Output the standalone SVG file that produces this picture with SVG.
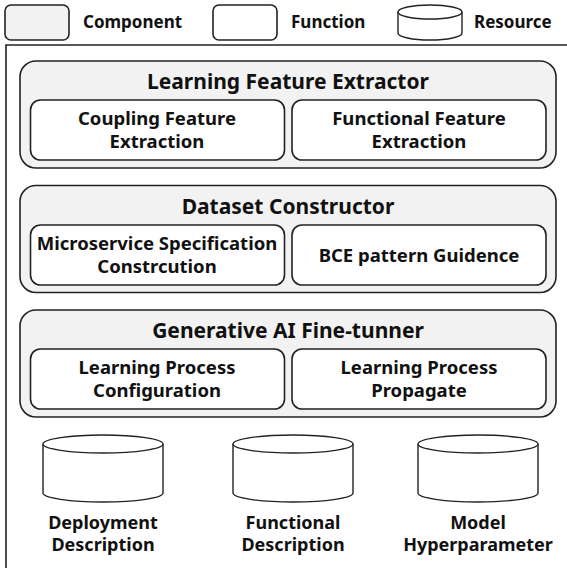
<svg xmlns="http://www.w3.org/2000/svg" width="567" height="568" viewBox="0 0 567 568">
  <style>
    text { font-family: "Noto Sans", "Open Sans", "DejaVu Sans", sans-serif; font-weight: bold; fill: #111; text-anchor: middle; }
    .legend { font-size: 17px; text-anchor: start; }
    .title { font-size: 21px; }
    .fn-text { font-size: 18.5px; }
    .res-text { font-size: 18px; }
    .comp { fill: #f2f2f2; stroke: #222; stroke-width: 1.6; }
    .fn { fill: #fff; stroke: #222; stroke-width: 1.6; }
    .res { fill: #fff; stroke: #222; stroke-width: 1.4; }
    .frame { fill: none; stroke: #222; stroke-width: 1.6; }
  </style>

  <!-- legend -->
  <g id="legend">
    <rect class="comp" x="5" y="5" width="64" height="35" rx="6"/>
    <text class="legend" x="83" y="28">Component</text>
    <rect class="fn" x="213" y="5" width="64" height="35" rx="6"/>
    <text class="legend" x="291" y="28">Function</text>
    <path class="res" d="M398,12 A32,7 0 0 1 462,12 V33 A32,7 0 0 1 398,33 Z"/>
    <path class="res" fill="none" d="M398,12 A32,7 0 0 0 462,12"/>
    <text class="legend" x="474" y="28">Resource</text>
  </g>

  <!-- outer frame -->
  <path class="frame" d="M6,570 V45 H570"/>

  <!-- Learning Feature Extractor -->
  <g id="learning-feature-extractor">
    <rect class="comp" x="20" y="61" width="536" height="107" rx="16"/>
    <text class="title" x="288" y="89">Learning Feature Extractor</text>
    <g id="coupling-feature-extraction">
      <rect class="fn" x="30.5" y="100" width="254" height="60" rx="10"/>
      <text class="fn-text" x="157" y="125">Coupling Feature</text>
      <text class="fn-text" x="157" y="148">Extraction</text>
    </g>
    <g id="functional-feature-extraction">
      <rect class="fn" x="292" y="100" width="254" height="60" rx="10"/>
      <text class="fn-text" x="419" y="125">Functional Feature</text>
      <text class="fn-text" x="419" y="148">Extraction</text>
    </g>
  </g>

  <!-- Dataset Constructor -->
  <g id="dataset-constructor">
    <rect class="comp" x="20" y="185.5" width="536" height="107" rx="16"/>
    <text class="title" x="288" y="214">Dataset Constructor</text>
    <g id="microservice-specification">
      <rect class="fn" x="30.5" y="225" width="254" height="60" rx="10"/>
      <text class="fn-text" x="157" y="250">Microservice Specification</text>
      <text class="fn-text" x="157" y="273">Constrcution</text>
    </g>
    <g id="bce-pattern-guidence">
      <rect class="fn" x="292" y="225" width="254" height="60" rx="10"/>
      <text class="fn-text" x="419" y="262">BCE pattern Guidence</text>
    </g>
  </g>

  <!-- Generative AI Fine-tunner -->
  <g id="generative-ai-fine-tunner">
    <rect class="comp" x="20" y="310" width="536" height="107" rx="16"/>
    <text class="title" x="288" y="338">Generative AI Fine-tunner</text>
    <g id="learning-process-configuration">
      <rect class="fn" x="30.5" y="349" width="254" height="60" rx="10"/>
      <text class="fn-text" x="157" y="374">Learning Process</text>
      <text class="fn-text" x="157" y="397">Configuration</text>
    </g>
    <g id="learning-process-propagate">
      <rect class="fn" x="292" y="349" width="254" height="60" rx="10"/>
      <text class="fn-text" x="419" y="374">Learning Process</text>
      <text class="fn-text" x="419" y="397">Propagate</text>
    </g>
  </g>

  <!-- resources -->
  <g id="deployment-description">
    <path class="res" d="M43,444 A60,9 0 0 1 163,444 V493 A60,9 0 0 1 43,493 Z"/>
    <path class="res" d="M43,444 A60,9 0 0 0 163,444"/>
    <text class="res-text" x="103" y="529">Deployment</text>
    <text class="res-text" x="103" y="551">Description</text>
  </g>
  <g id="functional-description">
    <path class="res" d="M233,444 A60,9 0 0 1 353,444 V493 A60,9 0 0 1 233,493 Z"/>
    <path class="res" d="M233,444 A60,9 0 0 0 353,444"/>
    <text class="res-text" x="293" y="529">Functional</text>
    <text class="res-text" x="293" y="551">Description</text>
  </g>
  <g id="model-hyperparameter">
    <path class="res" d="M418,444 A60,9 0 0 1 538,444 V493 A60,9 0 0 1 418,493 Z"/>
    <path class="res" d="M418,444 A60,9 0 0 0 538,444"/>
    <text class="res-text" x="478" y="529">Model</text>
    <text class="res-text" x="478" y="551">Hyperparameter</text>
  </g>
</svg>
